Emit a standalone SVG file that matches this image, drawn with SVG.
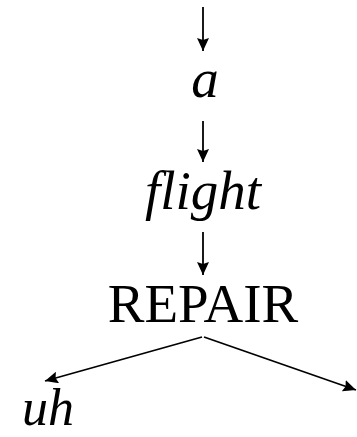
<svg xmlns="http://www.w3.org/2000/svg" width="357" height="437" viewBox="0 0 357 437">
<defs>
<marker id="ah" viewBox="0 0 13 12" refX="13" refY="6" markerWidth="13" markerHeight="12" markerUnits="userSpaceOnUse" orient="auto">
<path d="M0,0 L13,6 L0,12 L2,6 z" fill="#000"/>
</marker>
<style>
.t{font-family:"Liberation Serif","Times New Roman",serif;font-size:55px;fill:#000;text-anchor:middle}
.i{font-style:italic}
.c line{stroke:#000;stroke-width:1.8;marker-end:url(#ah)}
</style>
</defs>
<rect width="357" height="437" fill="#fff"/>
<g class="c" id="connectors">
<line x1="203" y1="7" x2="203" y2="51"/>
<line x1="203" y1="121" x2="203" y2="162"/>
<line x1="203" y1="232" x2="203" y2="275"/>
<line x1="202" y1="337" x2="45" y2="381"/>
<line x1="204" y1="337" x2="356" y2="390"/>
</g>
<g id="n-a"><text class="t i" x="205" y="97">a</text></g>
<g id="n-flight"><text class="t i" x="203" y="209">flight</text></g>
<g id="n-repair"><text class="t" x="203" y="322">REPAIR</text></g>
<g id="n-uh"><text class="t i" x="48" y="425" style="font-size:52px">uh</text></g>
</svg>
